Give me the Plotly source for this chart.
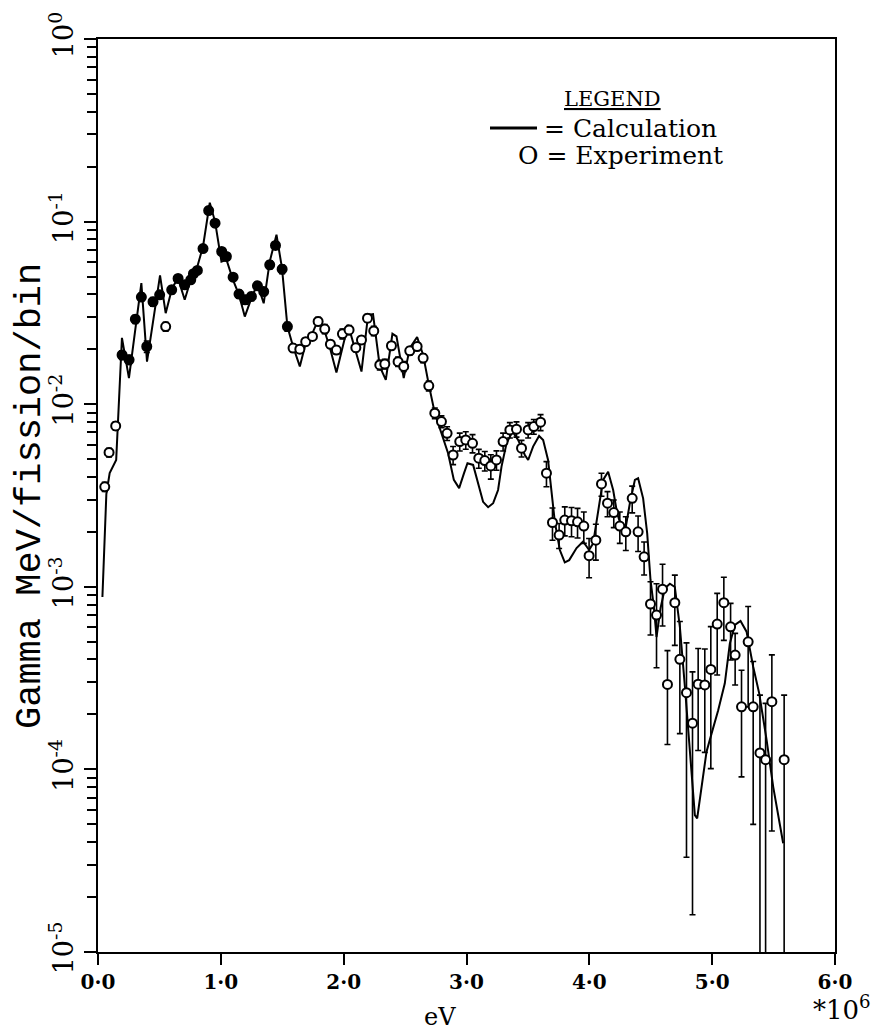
import plotly.graph_objects as go

# ---------------- data ----------------
# Calculation curve: energy in units of 10^6 eV, value in Gamma MeV/fission/bin
calc_energy = [0.036, 0.068, 0.095, 0.122, 0.148, 0.195, 0.252, 0.353, 0.399, 0.505,
               0.551, 0.603, 0.651, 0.706, 0.755, 0.809, 0.855, 0.910, 0.953, 1.005,
               1.046, 1.099, 1.148, 1.195, 1.249, 1.298, 1.349, 1.398, 1.453, 1.498,
               1.542, 1.588, 1.643, 1.691, 1.746, 1.792, 1.846, 1.893, 1.941, 2.036,
               2.145, 2.199, 2.239, 2.294, 2.343, 2.397, 2.430, 2.489, 2.538, 2.598,
               2.647, 2.693, 2.742, 2.796, 2.850, 2.897, 2.940, 2.980, 3.008, 3.054,
               3.094, 3.135, 3.176, 3.217, 3.257, 3.285, 3.326, 3.375, 3.420, 3.475,
               3.502, 3.542, 3.591, 3.624, 3.664, 3.692, 3.719, 3.760, 3.800, 3.836,
               3.896, 3.949, 3.998, 4.031, 4.072, 4.112, 4.153, 4.194, 4.226, 4.262,
               4.297, 4.330, 4.371, 4.397, 4.438, 4.471, 4.498, 4.525, 4.547, 4.580,
               4.615, 4.656, 4.696, 4.737, 4.778, 4.824, 4.859, 4.878, 4.914, 4.954,
               4.995, 5.049, 5.103, 5.144, 5.185, 5.231, 5.280, 5.334, 5.383, 5.443,
               5.497, 5.551, 5.578]
calc_value = [8.8e-4, 3.22e-3, 4.2e-3, 4.59e-3, 4.95e-3, 2.31e-2, 1.39e-2, 4.60e-2, 1.71e-2, 5.07e-2,
              3.15e-2, 4.32e-2, 4.90e-2, 3.73e-2, 4.80e-2, 5.68e-2, 7.31e-2, 0.127, 0.100, 6.04e-2,
              6.18e-2, 4.80e-2, 3.97e-2, 3.02e-2, 3.81e-2, 4.55e-2, 3.57e-2, 6.04e-2, 8.47e-2, 5.56e-2,
              2.66e-2, 2.07e-2, 1.61e-2, 2.16e-2, 2.45e-2, 2.90e-2, 2.50e-2, 1.98e-2, 1.49e-2, 2.72e-2,
              1.51e-2, 3.08e-2, 3.11e-2, 1.61e-2, 1.36e-2, 2.43e-2, 2.35e-2, 1.39e-2, 2.03e-2, 2.33e-2,
              1.86e-2, 1.28e-2, 8.93e-3, 6.93e-3, 5.39e-3, 3.85e-3, 3.47e-3, 4.19e-3, 4.75e-3, 4.65e-3,
              3.69e-3, 2.92e-3, 2.73e-3, 2.87e-3, 3.39e-3, 4.55e-3, 6.11e-3, 7.08e-3, 6.37e-3, 5.27e-3,
              4.95e-3, 5.86e-3, 6.70e-3, 6.37e-3, 4.95e-3, 3.25e-3, 2.27e-3, 1.59e-3, 1.36e-3, 1.40e-3,
              1.63e-3, 1.77e-3, 1.59e-3, 1.73e-3, 2.53e-3, 3.85e-3, 4.27e-3, 3.39e-3, 2.53e-3, 2.13e-3,
              2.13e-3, 2.87e-3, 3.85e-3, 3.93e-3, 3.05e-3, 1.96e-3, 1.09e-3, 7.78e-4, 5.31e-4, 7.66e-4,
              9.82e-4, 1.04e-3, 9.98e-4, 6.04e-4, 2.84e-4, 1.12e-4, 5.62e-5, 5.39e-5, 8.03e-5, 1.25e-4,
              1.57e-4, 2.11e-4, 2.96e-4, 4.90e-4, 6.18e-4, 6.50e-4, 5.68e-4, 3.65e-4, 2.61e-4, 1.45e-4,
              8.03e-5, 4.84e-5, 3.94e-5]

# Experiment points with (symmetric) error bars
exp_energy = [0.055, 0.090, 0.144, 0.196, 0.253, 0.304, 0.353, 0.397, 0.448, 0.502,
              0.551, 0.600, 0.652, 0.706, 0.755, 0.777, 0.809, 0.855, 0.901, 0.953,
              1.007, 1.045, 1.100, 1.148, 1.197, 1.249, 1.298, 1.349, 1.398, 1.445,
              1.499, 1.542, 1.588, 1.643, 1.691, 1.746, 1.792, 1.846, 1.892, 1.941,
              1.990, 2.044, 2.099, 2.145, 2.194, 2.245, 2.294, 2.335, 2.389, 2.443,
              2.489, 2.538, 2.598, 2.647, 2.693, 2.742, 2.796, 2.842, 2.891, 2.945,
              2.994, 3.049, 3.100, 3.149, 3.198, 3.244, 3.298, 3.353, 3.407, 3.448,
              3.502, 3.548, 3.603, 3.651, 3.700, 3.754, 3.800, 3.855, 3.904, 3.955,
              3.998, 4.053, 4.099, 4.148, 4.199, 4.248, 4.297, 4.349, 4.397, 4.446,
              4.498, 4.547, 4.596, 4.636, 4.696, 4.737, 4.791, 4.840, 4.886, 4.940,
              4.989, 5.041, 5.095, 5.150, 5.187, 5.239, 5.293, 5.334, 5.389, 5.435,
              5.486, 5.586]
exp_value = [3.53e-3, 5.44e-3, 7.6e-3, 1.86e-2, 1.75e-2, 2.92e-2, 3.86e-2, 2.07e-2, 3.64e-2, 3.97e-2,
             2.66e-2, 4.23e-2, 4.88e-2, 4.51e-2, 4.80e-2, 5.18e-2, 5.40e-2, 7.12e-2, 0.115, 9.8e-2,
             6.86e-2, 6.44e-2, 4.96e-2, 4.01e-2, 3.73e-2, 3.89e-2, 4.45e-2, 4.14e-2, 5.80e-2, 7.40e-2,
             5.49e-2, 2.66e-2, 2.03e-2, 2.00e-2, 2.20e-2, 2.35e-2, 2.84e-2, 2.58e-2, 2.13e-2, 1.98e-2,
             2.43e-2, 2.55e-2, 2.04e-2, 2.25e-2, 2.96e-2, 2.52e-2, 1.64e-2, 1.66e-2, 2.09e-2, 1.71e-2,
             1.61e-2, 1.96e-2, 2.07e-2, 1.79e-2, 1.26e-2, 8.93e-3, 8.03e-3, 6.93e-3, 5.27e-3, 6.24e-3,
             6.37e-3, 6.11e-3, 5.06e-3, 4.91e-3, 4.59e-3, 4.95e-3, 6.24e-3, 7.23e-3, 7.30e-3, 5.74e-3,
             7.23e-3, 7.54e-3, 7.97e-3, 4.19e-3, 2.25e-3, 1.92e-3, 2.32e-3, 2.30e-3, 2.27e-3, 2.15e-3,
             1.48e-3, 1.80e-3, 3.66e-3, 2.87e-3, 2.55e-3, 2.15e-3, 2.00e-3, 3.05e-3, 2.00e-3, 1.46e-3,
             8.05e-4, 7.0e-4, 9.7e-4, 2.92e-4, 8.18e-4, 4.01e-4, 2.63e-4, 1.79e-4, 2.93e-4, 2.90e-4,
             3.53e-4, 6.25e-4, 8.18e-4, 6.04e-4, 4.23e-4, 2.20e-4, 5.0e-4, 2.20e-4, 1.23e-4, 1.13e-4,
             2.35e-4, 1.13e-4]
exp_error = [2e-4, 3e-4, 4e-4, 1e-3, 1e-3, 1.5e-3, 2e-3, 1.5e-3, 2e-3, 2e-3,
             1.5e-3, 2e-3, 2e-3, 2e-3, 2e-3, 2e-3, 2e-3, 3e-3, 5e-3, 4e-3,
             3e-3, 3e-3, 2e-3, 2e-3, 2e-3, 2e-3, 2e-3, 2e-3, 3e-3, 3e-3,
             3e-3, 1.5e-3, 1e-3, 1e-3, 1e-3, 1e-3, 1.5e-3, 1.5e-3, 1e-3, 1e-3,
             1.5e-3, 1.5e-3, 1e-3, 1e-3, 1.5e-3, 1.5e-3, 1e-3, 1e-3, 1e-3, 1e-3,
             1e-3, 1e-3, 1e-3, 1e-3, 8e-4, 6e-4, 6e-4, 6e-4, 6e-4, 7e-4,
             7e-4, 7e-4, 6e-4, 6e-4, 7e-4, 6e-4, 7e-4, 7e-4, 7e-4, 6e-4,
             7e-4, 7e-4, 8e-4, 6.6e-4, 4.5e-4, 3.0e-4, 4.2e-4, 4.2e-4, 4.2e-4, 4.2e-4,
             3.6e-4, 4.0e-4, 5.3e-4, 4.5e-4, 4.4e-4, 4.2e-4, 4.2e-4, 5.1e-4, 4.4e-4, 3.0e-4,
             2.6e-4, 3.4e-4, 3.6e-4, 1.55e-4, 3.4e-4, 2.44e-4, 2.3e-4, 1.63e-4, 1.66e-4, 1.66e-4,
             2.52e-4, 2.96e-4, 3.09e-4, 2.07e-4, 1.33e-4, 1.29e-4, 2.8e-4, 1.7e-4, 1.32e-4, 1.17e-4,
             1.89e-4, 1.42e-4]
# which experiment markers appear solid (overprinted) in the reference
exp_solid = [0, 0, 0, 1, 1, 1, 1, 1, 1, 1,
             0, 1, 1, 1, 1, 1, 1, 1, 1, 1,
             1, 1, 1, 1, 1, 1, 1, 1, 1, 1,
             1, 1] + [0] * 80

x_tick_values = [0, 1, 2, 3, 4, 5, 6]
x_tick_labels = ["0·0", "1·0", "2·0", "3·0", "4·0", "5·0", "6·0"]
y_tick_values = [1e-5, 1e-4, 1e-3, 1e-2, 1e-1, 1e0]
y_tick_labels = ["10<sup>-5</sup>", "10<sup>-4</sup>", "10<sup>-3</sup>",
                 "10<sup>-2</sup>", "10<sup>-1</sup>", "10<sup>0</sup>"]

# ---------------- figure ----------------
W, H = 875, 1031
L, R, T, B = 98, 40, 39, 79
PW, PH = W - L - R, H - T - B


def px(xp):
    return (xp - L) / PW


def py(yp):
    return (H - B - yp) / PH


SERIF = "DejaVu Serif"

fig = go.Figure()
fig.add_trace(go.Scatter(
    x=calc_energy, y=calc_value, mode="lines",
    line=dict(color="black", width=2), name="Calculation", showlegend=False,
))

fill = ["black" if s else "white" for s in exp_solid]
fig.add_trace(go.Scatter(
    x=exp_energy, y=exp_value, mode="markers",
    marker=dict(symbol="circle", size=9, color=fill,
                line=dict(color="black", width=2)),
    error_y=dict(type="data", array=exp_error, symmetric=True,
                 color="black", thickness=1.6, width=3),
    name="Experiment", showlegend=False,
))

minor_vals = [m * 10.0 ** k for k in range(-5, 0) for m in range(2, 10)]

fig.update_layout(
    width=W, height=H,
    margin=dict(l=L, r=R, t=T, b=B, pad=0),
    paper_bgcolor="white", plot_bgcolor="white",
    showlegend=False,
    font=dict(family=SERIF, color="black"),
)
fig.update_xaxes(
    range=[0, 6], tickmode="array", tickvals=x_tick_values, ticktext=x_tick_labels,
    ticks="outside", ticklen=11, tickwidth=2, tickcolor="black",
    showline=True, linecolor="black", linewidth=2, mirror=True,
    showgrid=False, zeroline=False,
    tickfont=dict(family=SERIF, size=20, color="black", weight="bold"),
)
fig.update_yaxes(
    type="log", range=[-5, 0], tickmode="array", tickvals=y_tick_values,
    ticktext=y_tick_labels, tickangle=-90,
    ticks="outside", ticklen=12, tickwidth=2, tickcolor="black",
    showline=True, linecolor="black", linewidth=2, mirror=True,
    showgrid=False, zeroline=False,
    tickfont=dict(family=SERIF, size=27, color="black"),
    minor=dict(tickmode="array", tickvals=minor_vals, ticks="outside",
               ticklen=9, tickwidth=1.5, tickcolor="black", showgrid=False),
)

ann = []
ann.append(dict(text="Gamma MeV/fission/bin", x=px(30), y=py(496), xref="paper", yref="paper",
                textangle=-90, showarrow=False, xanchor="center", yanchor="middle",
                font=dict(family="Liberation Mono", size=37, color="black")))
ann.append(dict(text="eV", x=px(440), y=py(1017), xref="paper", yref="paper",
                showarrow=False, xanchor="center", yanchor="middle",
                font=dict(family=SERIF, size=24, color="black")))
ann.append(dict(text="*10<sup>6</sup>", x=px(873), y=py(1008), xref="paper", yref="paper",
                showarrow=False, xanchor="right", yanchor="middle",
                font=dict(family=SERIF, size=26, color="black")))
ann.append(dict(text="<u>LEGEND</u>", x=px(612), y=py(99), xref="paper", yref="paper",
                showarrow=False, xanchor="center", yanchor="middle",
                font=dict(family=SERIF, size=21, color="black")))
ann.append(dict(text="= Calculation", x=px(542), y=py(128), xref="paper", yref="paper",
                showarrow=False, xanchor="left", yanchor="middle",
                font=dict(family=SERIF, size=25, color="black")))
ann.append(dict(text="O = Experiment", x=px(516), y=py(155), xref="paper", yref="paper",
                showarrow=False, xanchor="left", yanchor="middle",
                font=dict(family=SERIF, size=25, color="black")))
fig.update_layout(annotations=ann)

fig.add_shape(type="line", xref="paper", yref="paper",
              x0=px(490), x1=px(537), y0=py(128), y1=py(128),
              line=dict(color="black", width=3))

fig.write_html("out.html", config={"displayModeBar": False},
               post_script="document.body.style.margin='0';")
